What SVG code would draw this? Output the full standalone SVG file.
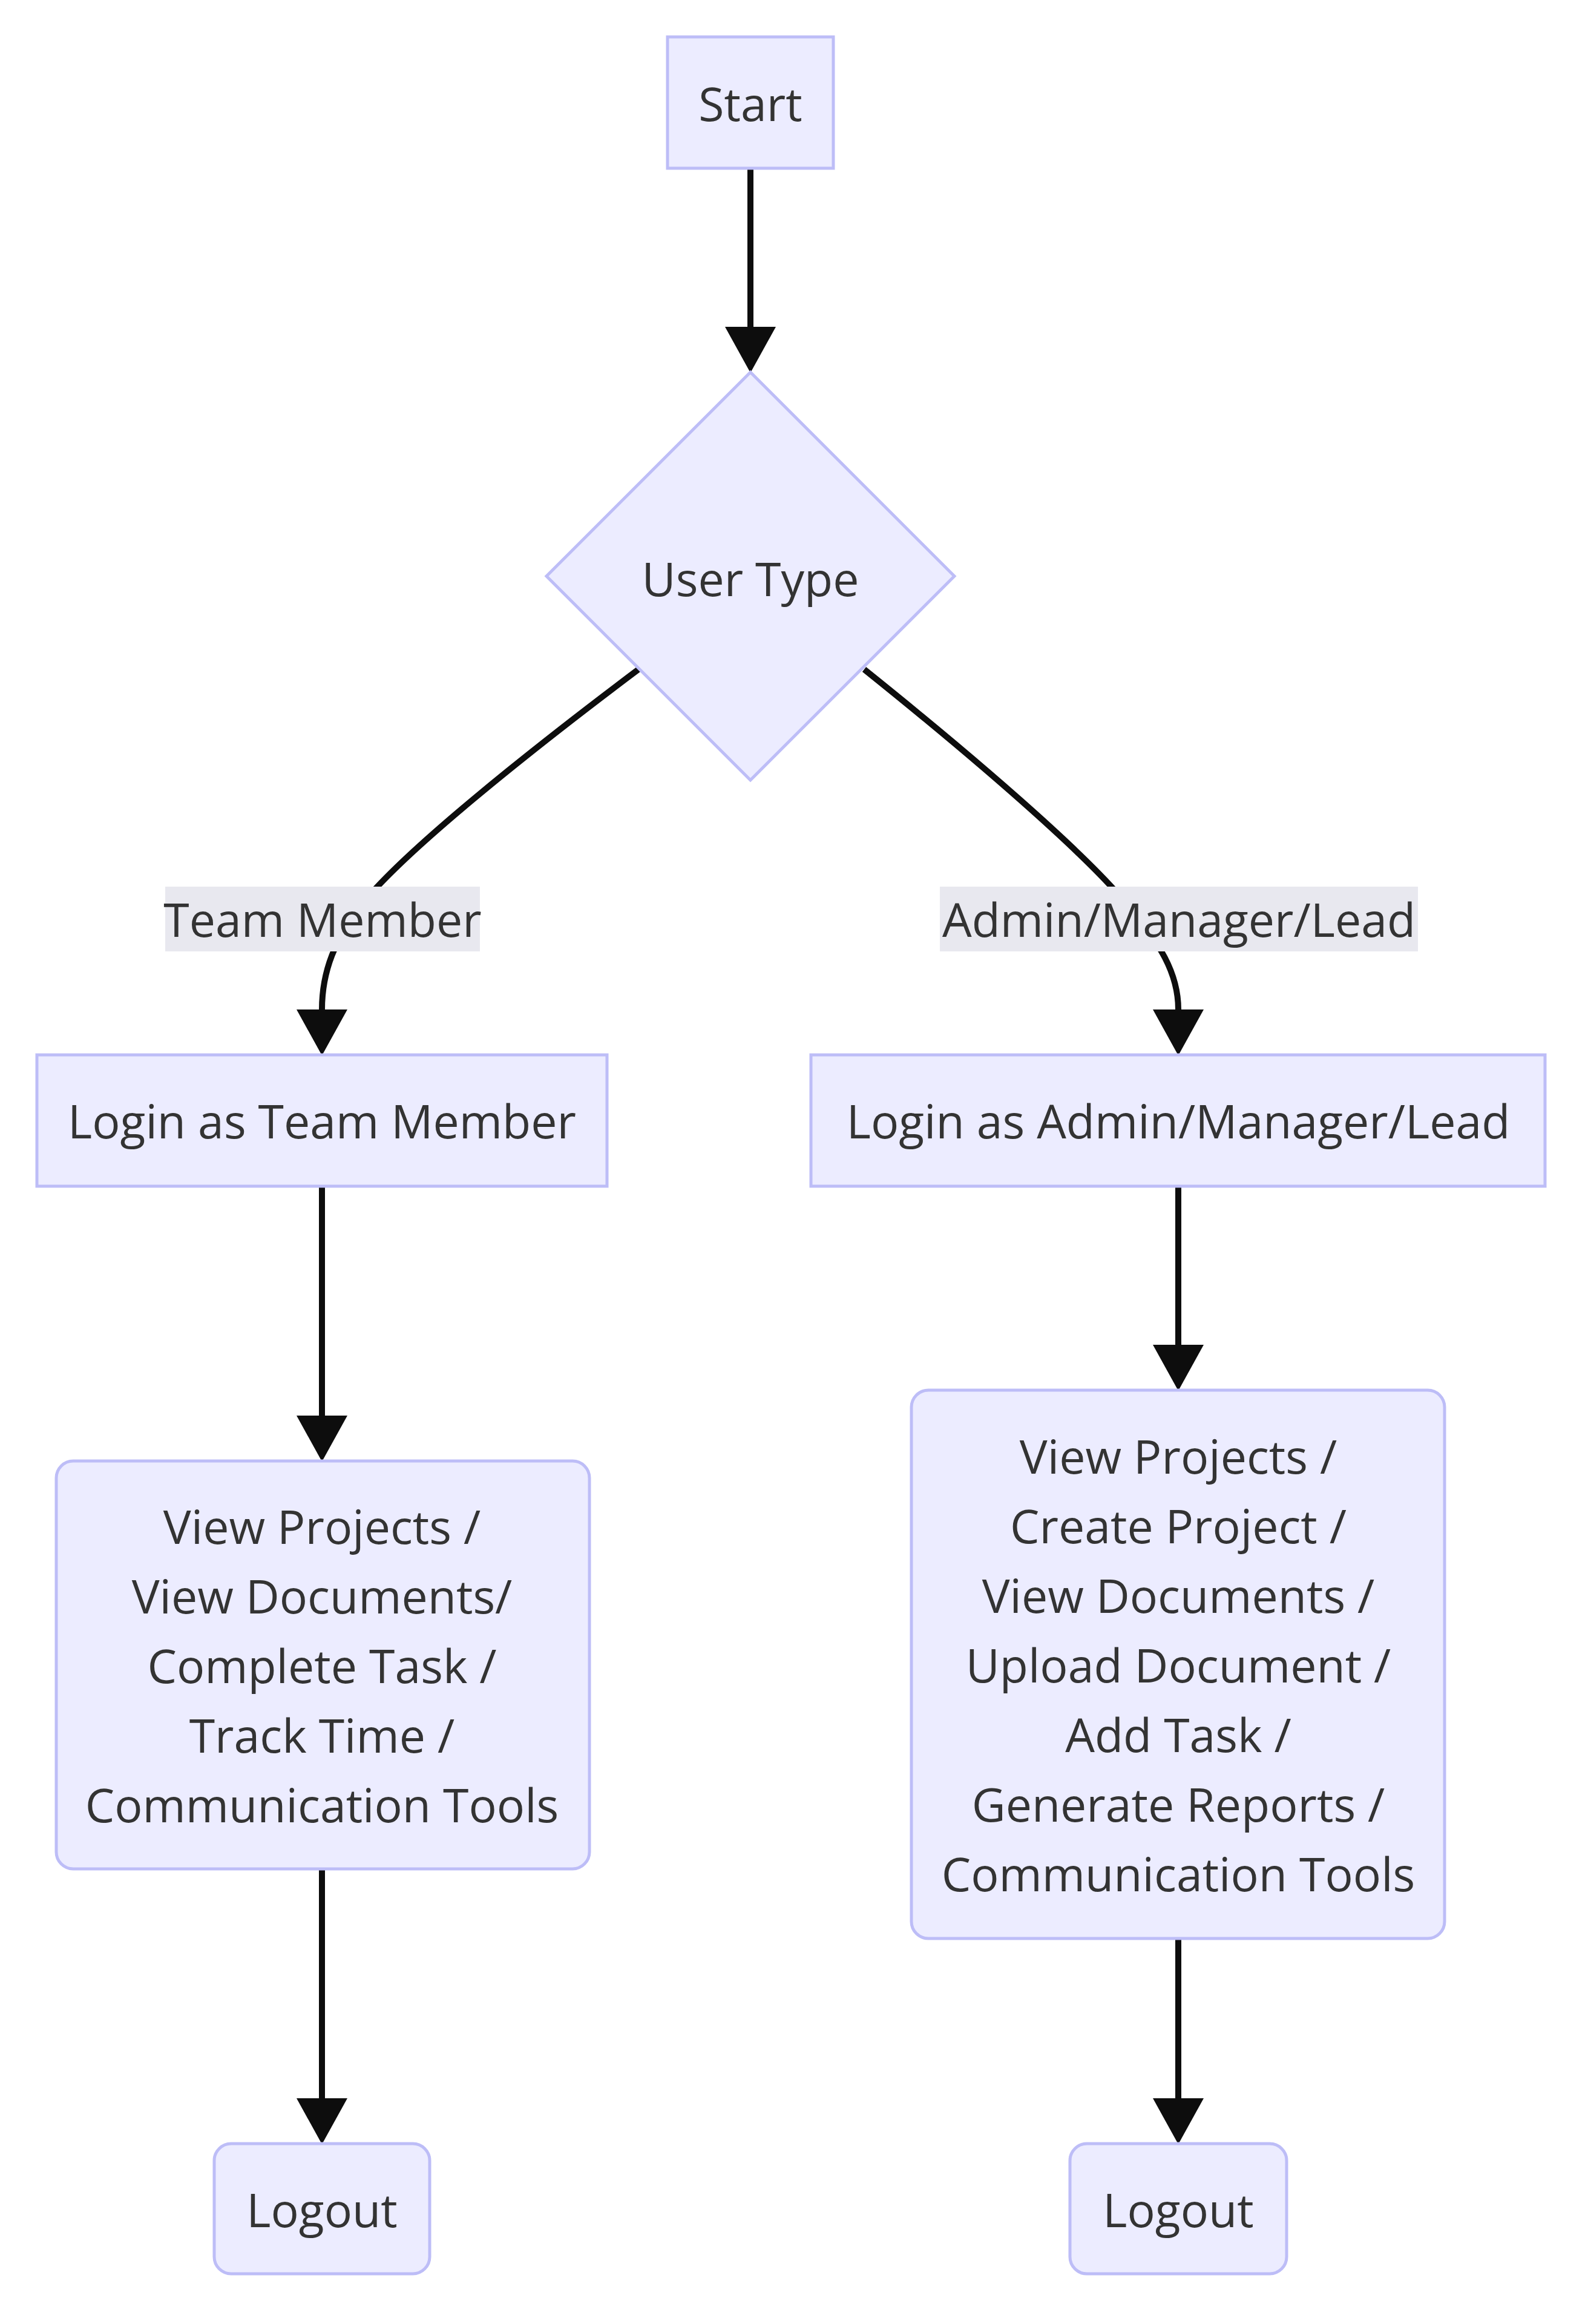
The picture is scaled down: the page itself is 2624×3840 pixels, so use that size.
<svg xmlns="http://www.w3.org/2000/svg" width="2624" height="3840" viewBox="0 0 2624 3840">
<style>
.node rect, .node polygon { fill: #ECECFF; stroke: #BDBDF7; stroke-width: 5; }
.lbl { font-family: "Open Sans", "Noto Sans", sans-serif; font-size: 77px; fill: #333333; text-anchor: middle; dominant-baseline: central; }
.edge { fill: none; stroke: #0d0d0d; stroke-width: 10; }
.elbg { fill: #E8E8EF; }
</style>
<defs>
<marker id="arr" markerUnits="userSpaceOnUse" markerWidth="80" markerHeight="90" refX="0" refY="42" orient="auto" viewBox="0 0 80 90">
<path d="M0,0 L76,42 L0,84 Z" fill="#0d0d0d"/>
</marker>
</defs>
<rect width="2624" height="3840" fill="#ffffff"/>
<g id="edges">
<path class="edge" d="M1240,278 L1240,540" marker-end="url(#arr)"/>
<path class="edge" d="M1055,1106 C850,1260 680,1400 610,1480 C550,1550 532,1610 532,1668" marker-end="url(#arr)"/>
<path class="edge" d="M1428,1106 C1620,1260 1780,1400 1850,1480 C1920,1560 1947,1610 1947,1668" marker-end="url(#arr)"/>
<path class="edge" d="M532,1960 L532,2339" marker-end="url(#arr)"/>
<path class="edge" d="M1947,1960 L1947,2222" marker-end="url(#arr)"/>
<path class="edge" d="M532,3088 L532,3467" marker-end="url(#arr)"/>
<path class="edge" d="M1947,3203 L1947,3467" marker-end="url(#arr)"/>
</g>
<g id="edge-labels">
<g id="label-team">
<rect class="elbg" x="273" y="1465" width="520" height="107"/>
<text class="lbl" x="533" y="1518">Team Member</text>
</g>
<g id="label-admin">
<rect class="elbg" x="1553" y="1465" width="790" height="107"/>
<text class="lbl" x="1948" y="1518">Admin/Manager/Lead</text>
</g>
</g>
<g id="start" class="node">
<rect x="1103" y="61" width="274" height="217"/>
<text class="lbl" x="1240" y="170">Start</text>
</g>
<g id="usertype" class="node">
<polygon points="1240,615 1577,952 1240,1289 903,952"/>
<text class="lbl" x="1240" y="955">User Type</text>
</g>
<g id="login-team" class="node">
<rect x="61" y="1743" width="942" height="217"/>
<text class="lbl" x="532" y="1851">Login as Team Member</text>
</g>
<g id="login-admin" class="node">
<rect x="1340" y="1743" width="1213" height="217"/>
<text class="lbl" x="1947" y="1851">Login as Admin/Manager/Lead</text>
</g>
<g id="team-actions" class="node">
<rect x="93" y="2414" width="881" height="674" rx="28" ry="28"/>
<text class="lbl" x="532" y="2521">View Projects /</text>
<text class="lbl" x="532" y="2636">View Documents/</text>
<text class="lbl" x="532" y="2751">Complete Task /</text>
<text class="lbl" x="532" y="2866">Track Time /</text>
<text class="lbl" x="532" y="2981">Communication Tools</text>
</g>
<g id="admin-actions" class="node">
<rect x="1506" y="2297" width="881" height="906" rx="28" ry="28"/>
<text class="lbl" x="1947" y="2405">View Projects /</text>
<text class="lbl" x="1947" y="2520">Create Project /</text>
<text class="lbl" x="1947" y="2635">View Documents /</text>
<text class="lbl" x="1947" y="2750">Upload Document /</text>
<text class="lbl" x="1947" y="2865">Add Task /</text>
<text class="lbl" x="1947" y="2980">Generate Reports /</text>
<text class="lbl" x="1947" y="3095">Communication Tools</text>
</g>
<g id="logout-team" class="node">
<rect x="354" y="3542" width="356" height="215" rx="28" ry="28"/>
<text class="lbl" x="532" y="3650">Logout</text>
</g>
<g id="logout-admin" class="node">
<rect x="1768" y="3542" width="358" height="215" rx="28" ry="28"/>
<text class="lbl" x="1947" y="3650">Logout</text>
</g>
</svg>
